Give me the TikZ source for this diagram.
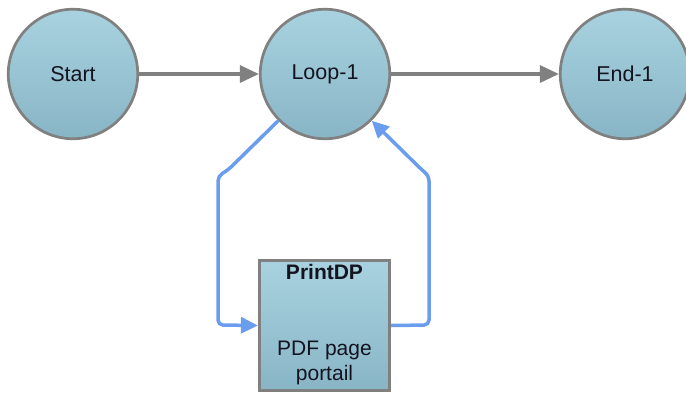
\documentclass[tikz,border=0pt]{standalone}
\usepackage{fontspec}
\setmainfont{Liberation Sans}
\usetikzlibrary{arrows.meta}
\definecolor{fillTop}{HTML}{A8D2DF}
\definecolor{fillBot}{HTML}{88B5C6}
\definecolor{edgeGray}{HTML}{808080}
\definecolor{loopBlue}{HTML}{6B9DEF}
\definecolor{txt}{HTML}{141420}
\begin{document}
\begin{tikzpicture}[x=1pt,y=-1pt,
  state/.style={circle, draw=edgeGray, line width=2.7pt, top color=fillTop, bottom color=fillBot,
    minimum size=129.5pt, inner sep=0pt, text=txt, font=\fontsize{21.5}{25}\selectfont},
  taskbox/.style={rectangle, draw=edgeGray, line width=2.7pt, top color=fillTop, bottom color=fillBot,
    minimum width=130.5pt, minimum height=130.5pt, inner sep=0pt},
  boxtext/.style={text=txt, font=\fontsize{21}{25}\selectfont, align=center, inner sep=0pt},
  flow/.style={draw=edgeGray, line width=3.3pt, -{Triangle[length=19pt,width=17pt]}},
  loopflow/.style={draw=loopBlue, line width=3.5pt, -{Triangle[length=17pt,width=16pt]}}]
\useasboundingbox (0,0) rectangle (686,394);
\node[state] (start) at (73,74) {Start};
\node[state] (loop) at (325,74) {Loop-1};
\node[state] (end) at (625,74) {End-1};
\node[taskbox] (print) at (324.5,325.5) {};
\node[boxtext, font=\fontsize{21}{25}\selectfont\bfseries, anchor=center] (ptitle) at (324.5,272) {PrintDP};
\node[boxtext, anchor=center] (pdesc) at (324.5,363) {PDF page\\portail};
\draw[flow] (start) -- (loop);
\draw[flow] (loop) -- (end);
\coordinate (la) at (218,176);
\coordinate (lb) at (218,325);
\coordinate (ra) at (429,325);
\coordinate (rb) at (429,176);
\draw[loopflow, rounded corners=5pt] (loop.-135) -- (228,170) -- (la) -- (lb) -- (print.west);
\draw[loopflow, rounded corners=5pt] (print.east) -- (ra) -- (rb) -- (422,170) -- (loop.-45);
\end{tikzpicture}
\end{document}
